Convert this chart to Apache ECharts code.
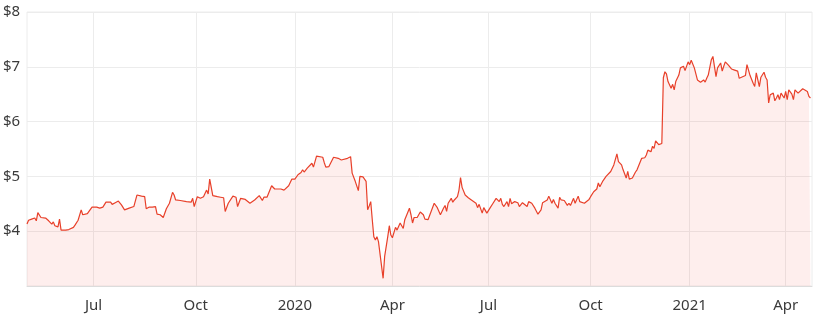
<!DOCTYPE html>
<html>
<head>
<meta charset="utf-8">
<style>html,body{margin:0;padding:0;background:#fff}#c{width:824px;height:322px}</style>
<script src="https://cdn.jsdelivr.net/npm/echarts@6/dist/echarts.min.js"></script>
</head>
<body>
<div id="c"></div>
<script>
// trading-day index (0 = 30 Apr 2019) of each read vertex
const dayIdx = [0,1,3,5,6,7,9,10,12,14,16,17,18,20,21,22,25,27,30,31,33,34,35,36,37,39,42,45,47,49,51,52,54,55,57,59,61,62,63,66,69,71,74,76,77,79,81,83,84,86,88,90,92,94,95,96,99,103,106,107,108,110,112,114,116,117,118,120,123,125,127,128,130,133,135,136,138,141,144,147,150,152,153,155,158,160,164,166,169,171,173,175,177,178,179,181,182,184,185,187,188,191,192,193,195,198,199,201,203,207,209,210,212,214,215,217,219,220,221,222,223,224,225,226,227,228,230,231,233,234,235,236,238,239,241,243,244,247,248,249,250,252,254,256,257,259,261,263,265,267,269,270,271,272,274,275,276,278,279,280,281,283,285,287,290,291,292,294,295,296,297,299,301,303,305,306,307,308,310,311,312,313,315,317,318,320,321,323,324,326,327,328,330,332,333,336,337,339,340,341,343,344,345,347,349,350,351,353,354,356,357,358,360,361,363,364,366,368,369,370,372,373,374,375,377,378,379,381,382,384,385,387,388,389,391,393,394,395,397,399,400,401,403,404,405,406,408,409,410,411,412,413,414,416,417,418,419,421,422,424,425,427,428,429,431,433,435,437,438,439,440,442,443,445,446,448,449,450,451,453,454,455,457,459,460,461,464,465,467,469,470,471,473,474,476,477,478,479,480,482,483,484,485,486,487,489,490,491,492,494,495,496,498,499,501,502,504,505,506,507];
const prices = [4.13,4.20,4.22,4.24,4.19,4.34,4.25,4.27,4.24,4.19,4.13,4.17,4.10,4.08,4.22,4.02,4.02,4.03,4.07,4.11,4.20,4.20,4.39,4.30,4.32,4.32,4.44,4.44,4.42,4.44,4.53,4.50,4.53,4.49,4.52,4.55,4.48,4.45,4.39,4.42,4.45,4.66,4.64,4.63,4.41,4.44,4.44,4.45,4.31,4.30,4.25,4.41,4.51,4.71,4.66,4.57,4.56,4.54,4.53,4.60,4.45,4.63,4.60,4.63,4.75,4.68,4.95,4.65,4.63,4.62,4.61,4.36,4.51,4.64,4.62,4.45,4.60,4.58,4.51,4.57,4.65,4.56,4.62,4.62,4.83,4.77,4.77,4.75,4.83,4.95,4.95,5.03,5.07,5.12,5.08,5.15,5.12,5.24,5.17,5.37,5.35,5.35,5.25,5.17,5.18,5.35,5.32,5.33,5.30,5.33,5.36,5.06,4.91,4.74,5.00,4.99,4.91,4.39,4.46,4.54,4.21,3.90,3.84,3.90,3.81,3.81,3.14,3.54,3.90,4.10,3.93,3.88,4.07,4.02,4.15,4.05,4.21,4.42,4.30,4.15,4.25,4.25,4.35,4.30,4.22,4.21,4.36,4.51,4.43,4.30,4.42,4.47,4.36,4.51,4.60,4.53,4.57,4.63,4.75,4.98,4.80,4.66,4.61,4.57,4.51,4.43,4.49,4.33,4.43,4.43,4.33,4.42,4.51,4.60,4.54,4.60,4.49,4.45,4.54,4.45,4.60,4.50,4.54,4.52,4.45,4.52,4.51,4.45,4.54,4.51,4.54,4.42,4.31,4.39,4.52,4.57,4.64,4.51,4.58,4.51,4.42,4.62,4.57,4.56,4.47,4.51,4.47,4.60,4.51,4.64,4.54,4.57,4.51,4.54,4.58,4.63,4.72,4.77,4.88,4.81,4.92,4.90,5.00,4.97,5.09,5.06,5.21,5.41,5.27,5.21,5.12,4.97,5.09,4.95,4.97,5.08,5.12,5.09,5.33,5.34,5.39,5.48,5.45,5.55,5.51,5.65,5.58,5.55,5.60,6.80,6.91,6.87,6.73,6.61,6.68,6.58,6.73,6.85,6.98,7.01,6.93,7.09,7.04,7.12,6.98,6.76,6.72,6.76,6.72,6.79,6.85,7.13,7.19,6.82,6.98,7.07,6.92,7.01,7.09,7.03,7.01,6.96,6.94,6.92,6.79,6.79,6.84,7.04,6.84,6.70,6.64,6.89,6.64,6.81,6.90,6.81,6.76,6.34,6.49,6.52,6.38,6.43,6.49,6.40,6.52,6.43,6.55,6.40,6.58,6.50,6.40,6.58,6.52,6.50,6.60,6.61,6.55,6.46,6.43];
// first trading day of each quarter (trading-day index) and its label
const tickIdx = [43,109,173,236,298,364,428,490];
const tickLabels = ['Jul','Oct','2020','Apr','Jul','Oct','2021','Apr'];
const yMin = 3, yMax = 8, yStep = 1;
const lastIdx = 507;

const chart = echarts.init(document.getElementById('c'), null, {renderer:'canvas'});
const font = '"Noto Sans", sans-serif';
chart.setOption({
  animation: false,
  grid: {left: 27, right: 12, top: 12, bottom: 36, show: true, borderColor: '#ececec', borderWidth: 1},
  xAxis: {
    type: 'value', min: 0, max: lastIdx,
    axisLine: {show: true, lineStyle: {color: '#dcdcdc'}},
    axisTick: {show: false, customValues: tickIdx},
    axisLabel: {customValues: tickIdx, margin: 12, color: '#3a3a3a', fontSize: 15, fontFamily: font,
      formatter: v => { const i = tickIdx.indexOf(Math.round(v)); return i < 0 ? '' : tickLabels[i]; }},
    splitLine: {show: true, lineStyle: {color: '#ececec', width: 1}}
  },
  yAxis: {
    type: 'value', min: yMin, max: yMax, interval: yStep,
    axisLine: {show: false}, axisTick: {show: false},
    axisLabel: {align: 'left', margin: 24, color: '#3a3a3a', fontSize: 15, fontFamily: font,
      formatter: v => v === yMin ? '' : '$' + v},
    splitLine: {show: true, lineStyle: {color: '#ececec', width: 1}}
  },
  series: [{
    type: 'line',
    data: dayIdx.map((d, i) => [d, prices[i]]),
    showSymbol: false, symbol: 'none',
    lineStyle: {color: '#e8402a', width: 1.2},
    areaStyle: {color: 'rgba(240,70,50,0.13)', origin: 'start'},
    z: 3
  }]
});
</script>
</body>
</html>
